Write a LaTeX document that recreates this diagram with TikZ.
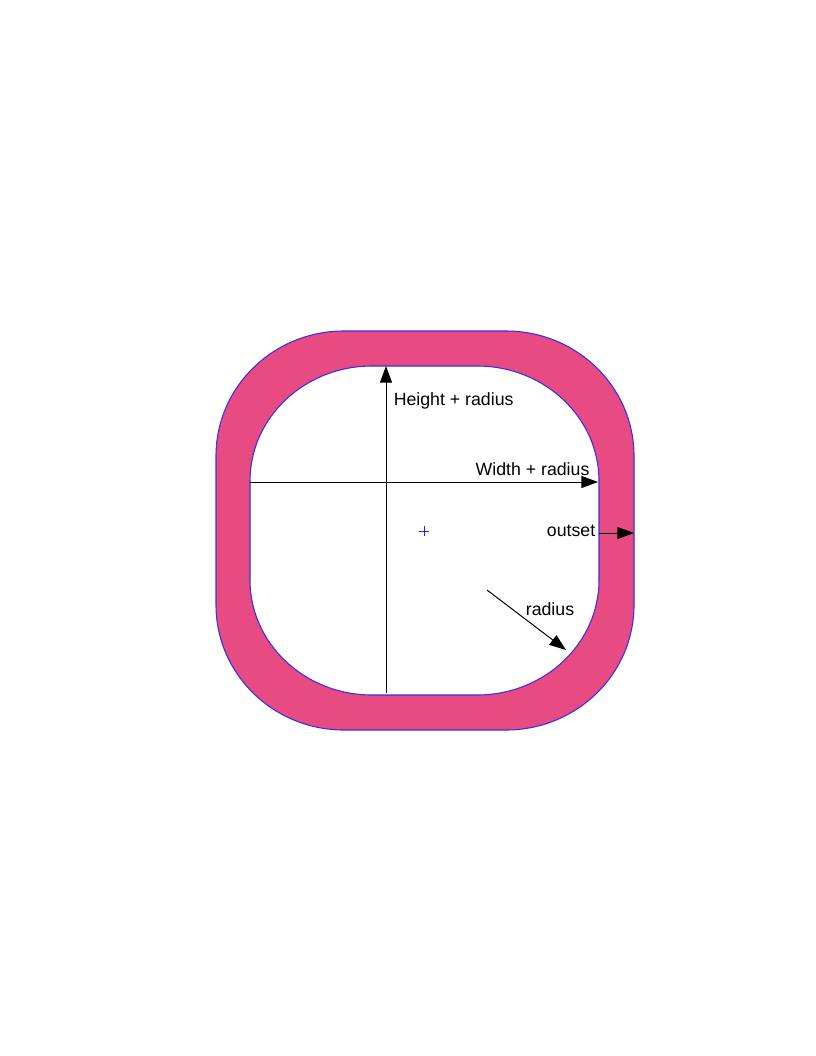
\documentclass[tikz,border=0pt]{standalone}
\usepackage{fontspec}
\setmainfont{Liberation Sans}
\usetikzlibrary{arrows.meta}
\definecolor{ringfill}{HTML}{E84A82}
\definecolor{ringline}{HTML}{3A2EE8}
\definecolor{markblue}{HTML}{2020FF}
\tikzset{
  dimline/.style={draw=black, line width=0.75pt, -{Triangle[length=12.5pt,width=9pt]}},
  lbl/.style={font=\fontsize{13.3}{15}\selectfont, inner sep=0pt, text=black},
  ring/.style={fill=ringfill, draw=ringline, line width=0.8pt, even odd rule}
}
\begin{document}
\begin{tikzpicture}[x=0.75pt,y=-0.75pt]
\useasboundingbox (0,0) rectangle (816,1056);
% ring: outer and inner rounded outlines
\path[ring]
  (344,331) -- (506,331) .. controls (576.7,331) and (634,387) .. (634,456)
  -- (634,605) .. controls (634,674) and (576.7,730) .. (506,730)
  -- (344,730) .. controls (273.3,730) and (216,674) .. (216,605)
  -- (216,456) .. controls (216,387) and (273.3,331) .. (344,331) -- cycle
  (372,366) -- (477,366) .. controls (544.4,366) and (599,417.5) .. (599,481)
  -- (599,580) .. controls (599,643.5) and (544.4,695) .. (477,695)
  -- (372,695) .. controls (304.6,695) and (250,643.5) .. (250,580)
  -- (250,481) .. controls (250,417.5) and (304.6,366) .. (372,366) -- cycle;
% coordinates
\coordinate (vb) at (386,693);
\coordinate (vt) at (386,366);
\coordinate (hl) at (250,482);
\coordinate (hr) at (598,482);
\coordinate (o1) at (599,533);
\coordinate (o2) at (634,533);
\coordinate (r1) at (487,590);
\coordinate (r2) at (566,650);
\coordinate (ctr) at (424,531);
% connectors
\draw[dimline] (vb) -- (vt);
\draw[dimline] (hl) -- (hr);
\draw[dimline] (o1) -- (o2);
\draw[dimline] (r1) -- (r2);
% centre mark
\draw[markblue, line width=0.75pt] ([xshift=-3.5pt]ctr) -- ([xshift=3.5pt]ctr);
\draw[markblue, line width=0.75pt] ([yshift=-3.5pt]ctr) -- ([yshift=3.5pt]ctr);
% labels
\node[lbl, anchor=west] (hlab) at (393.5,401) {Height + radius};
\node[lbl] (wlab) at (532.5,469) {Width + radius};
\node[lbl, anchor=east] (olab) at (595.5,531) {outset};
\node[lbl] (rlab) at (550,609) {radius};
\end{tikzpicture}
\end{document}
